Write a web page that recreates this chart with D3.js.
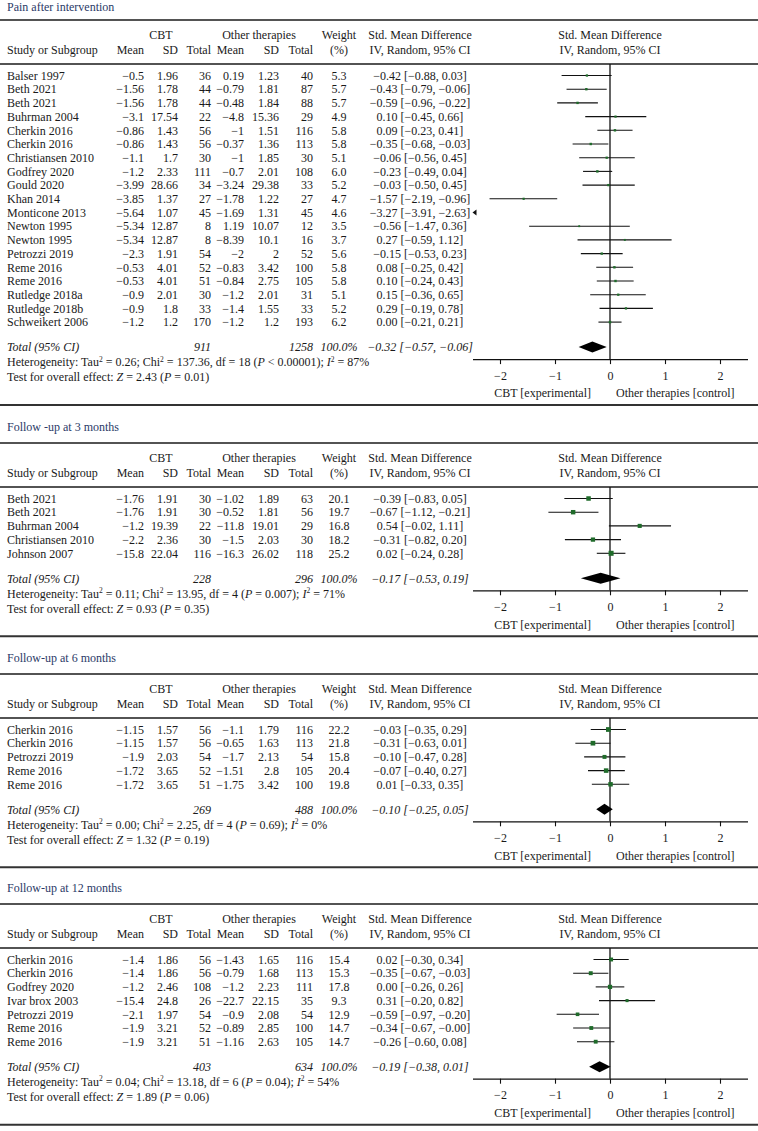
<!DOCTYPE html>
<html>
<head>
<meta charset="utf-8">
<script src="https://cdn.jsdelivr.net/npm/d3@7"></script>
<style>
  html, body { margin: 0; padding: 0; background: #ffffff; }
  svg { display: block; }
  text { font-family: "Liberation Serif", "DejaVu Serif", serif; font-size: 12px; fill: #1a1a1a; }
</style>
</head>
<body>
<div id="chart"></div>
<script>
// ---------------- DATA ----------------
const panelTitles = ["Pain after intervention", "Follow -up at 3 months", "Follow-up at 6 months", "Follow-up at 12 months"];

// Panel 1: Pain after intervention
const p1Studies = ["Balser 1997","Beth 2021","Beth 2021","Buhrman 2004","Cherkin 2016","Cherkin 2016","Christiansen 2010","Godfrey 2020","Gould 2020","Khan 2014","Monticone 2013","Newton 1995","Newton 1995","Petrozzi 2019","Reme 2016","Reme 2016","Rutledge 2018a","Rutledge 2018b","Schweikert 2006"];
const p1CbtMean = [-0.5,-1.56,-1.56,-3.1,-0.86,-0.86,-1.1,-1.2,-3.99,-3.85,-5.64,-5.34,-5.34,-2.3,-0.53,-0.53,-0.9,-0.9,-1.2];
const p1CbtSD = [1.96,1.78,1.78,17.54,1.43,1.43,1.7,2.33,28.66,1.37,1.07,12.87,12.87,1.91,4.01,4.01,2.01,1.8,1.2];
const p1CbtN = [36,44,44,22,56,56,30,111,34,27,45,8,8,54,52,51,30,33,170];
const p1OthMean = [0.19,-0.79,-0.48,-4.8,-1,-0.37,-1,-0.7,-3.24,-1.78,-1.69,1.19,-8.39,-2,-0.83,-0.84,-1.2,-1.4,-1.2];
const p1OthSD = [1.23,1.81,1.84,15.36,1.51,1.36,1.85,2.01,29.38,1.22,1.31,10.07,10.1,2,3.42,2.75,2.01,1.55,1.2];
const p1OthN = [40,87,88,29,116,113,30,108,33,27,45,12,16,52,100,105,31,33,193];
const p1Weight = [5.3,5.7,5.7,4.9,5.8,5.8,5.1,6.0,5.2,4.7,4.6,3.5,3.7,5.6,5.8,5.8,5.1,5.2,6.2];
const p1Smd = [-0.42,-0.43,-0.59,0.10,0.09,-0.35,-0.06,-0.23,-0.03,-1.57,-3.27,-0.56,0.27,-0.15,0.08,0.10,0.15,0.29,0.00];
const p1Lo = [-0.88,-0.79,-0.96,-0.45,-0.23,-0.68,-0.56,-0.49,-0.50,-2.19,-3.91,-1.47,-0.59,-0.53,-0.25,-0.24,-0.36,-0.19,-0.21];
const p1Hi = [0.03,-0.06,-0.22,0.66,0.41,-0.03,0.45,0.04,0.45,-0.96,-2.63,0.36,1.12,0.23,0.42,0.43,0.65,0.78,0.21];

// Panel 2: 3 months
const p2Studies = ["Beth 2021","Beth 2021","Buhrman 2004","Christiansen 2010","Johnson 2007"];
const p2CbtMean = [-1.76,-1.76,-1.2,-2.2,-15.8];
const p2CbtSD = [1.91,1.91,19.39,2.36,22.04];
const p2CbtN = [30,30,22,30,116];
const p2OthMean = [-1.02,-0.52,-11.8,-1.5,-16.3];
const p2OthSD = [1.89,1.81,19.01,2.03,26.02];
const p2OthN = [63,56,29,30,118];
const p2Weight = [20.1,19.7,16.8,18.2,25.2];
const p2Smd = [-0.39,-0.67,0.54,-0.31,0.02];
const p2Lo = [-0.83,-1.12,-0.02,-0.82,-0.24];
const p2Hi = [0.05,-0.21,1.11,0.20,0.28];

// Panel 3: 6 months
const p3Studies = ["Cherkin 2016","Cherkin 2016","Petrozzi 2019","Reme 2016","Reme 2016"];
const p3CbtMean = [-1.15,-1.15,-1.9,-1.72,-1.72];
const p3CbtSD = [1.57,1.57,2.03,3.65,3.65];
const p3CbtN = [56,56,54,52,51];
const p3OthMean = [-1.1,-0.65,-1.7,-1.51,-1.75];
const p3OthSD = [1.79,1.63,2.13,2.8,3.42];
const p3OthN = [116,113,54,105,100];
const p3Weight = [22.2,21.8,15.8,20.4,19.8];
const p3Smd = [-0.03,-0.31,-0.10,-0.07,0.01];
const p3Lo = [-0.35,-0.63,-0.47,-0.40,-0.33];
const p3Hi = [0.29,0.01,0.28,0.27,0.35];

// Panel 4: 12 months
const p4Studies = ["Cherkin 2016","Cherkin 2016","Godfrey 2020","Ivar brox 2003","Petrozzi 2019","Reme 2016","Reme 2016"];
const p4CbtMean = [-1.4,-1.4,-1.2,-15.4,-2.1,-1.9,-1.9];
const p4CbtSD = [1.86,1.86,2.46,24.8,1.97,3.21,3.21];
const p4CbtN = [56,56,108,26,54,52,51];
const p4OthMean = [-1.43,-0.79,-1.2,-22.7,-0.9,-0.89,-1.16];
const p4OthSD = [1.65,1.68,2.23,22.15,2.08,2.85,2.63];
const p4OthN = [116,113,111,35,54,100,105];
const p4Weight = [15.4,15.3,17.8,9.3,12.9,14.7,14.7];
const p4Smd = [0.02,-0.35,0.00,0.31,-0.59,-0.34,-0.26];
const p4Lo = [-0.30,-0.67,-0.26,-0.20,-0.97,-0.67,-0.60];
const p4Hi = [0.34,-0.03,0.26,0.82,-0.20,-0.001,0.08];

// Totals and statistics per panel
const totCbtN = [911, 228, 269, 403];
const totOthN = [1258, 296, 488, 634];
const totSmd = [-0.32, -0.17, -0.10, -0.19];
const totLo = [-0.57, -0.53, -0.25, -0.38];
const totHi = [-0.06, 0.19, 0.05, 0.01];
const hetTau2 = ["0.26", "0.11", "0.00", "0.04"];
const hetChi2 = ["137.36", "13.95", "2.25", "13.18"];
const hetDf = [18, 4, 4, 6];
const hetP = ["< 0.00001", "= 0.007", "= 0.69", "= 0.04"];
const hetI2 = [87, 71, 0, 54];
const effZ = ["2.43", "0.93", "1.32", "1.89"];
const effP = ["0.01", "0.35", "0.19", "0.06"];

const tickValues = [-2, -1, 0, 1, 2];
const leftLabel = "CBT [experimental]";
const rightLabel = "Other therapies [control]";

// ---------------- LAYOUT ----------------
const W = 758, H = 1131;
const titleYs = [7, 427, 658, 888];
const topRules = [20, 443, 674, 904];
const rowStep = 13.7;
const col = { study: 7, mean: 144, sd: 178, n: 211, omean: 244, osd: 279, on: 313, weight: 339, smd: 420, plot: 610 };
const green = "#1f6b2a";
const navy = "#2b3a67";

const panels = [
  { studies: p1Studies, cm: p1CbtMean, cs: p1CbtSD, cn: p1CbtN, om: p1OthMean, os: p1OthSD, on: p1OthN, w: p1Weight, smd: p1Smd, lo: p1Lo, hi: p1Hi },
  { studies: p2Studies, cm: p2CbtMean, cs: p2CbtSD, cn: p2CbtN, om: p2OthMean, os: p2OthSD, on: p2OthN, w: p2Weight, smd: p2Smd, lo: p2Lo, hi: p2Hi },
  { studies: p3Studies, cm: p3CbtMean, cs: p3CbtSD, cn: p3CbtN, om: p3OthMean, os: p3OthSD, on: p3OthN, w: p3Weight, smd: p3Smd, lo: p3Lo, hi: p3Hi },
  { studies: p4Studies, cm: p4CbtMean, cs: p4CbtSD, cn: p4CbtN, om: p4OthMean, os: p4OthSD, on: p4OthN, w: p4Weight, smd: p4Smd, lo: p4Lo, hi: p4Hi }
];

const minus = s => String(s).replace(/-/g, "\u2212");
const fRaw = v => minus(v);
const f2 = v => minus(v.toFixed(2));
const f1 = v => v.toFixed(1);
const ciText = (m, l, h) => `${f2(m)} [${f2(l)}, ${f2(h)}]`;

const svg = d3.select("#chart").append("svg").attr("width", W).attr("height", H);

const x = d3.scaleLinear().domain([-2.5, 2.5]).range([472.5, 747.5]);
const size = d3.scaleSqrt().domain([0, 25]).range([0, 5]);

function txt(g, xPos, y, s, anchor, opts = {}) {
  const t = g.append("text").attr("x", xPos).attr("y", y).attr("dy", "0.35em")
    .attr("text-anchor", anchor || "start").text(s);
  if (opts.italic) t.attr("font-style", "italic");
  if (opts.fill) t.style("fill", opts.fill);
  return t;
}

// rich text: segments [{t, it, sup}]
function rich(g, xPos, y, segs) {
  const t = g.append("text").attr("x", xPos).attr("y", y + 4.2);
  let raised = false;
  segs.forEach(s => {
    const ts = t.append("tspan").text(s.t);
    if (s.it) ts.attr("font-style", "italic");
    if (s.sup) {
      ts.style("font-size", "7.5px").attr("dy", -4.5);
      raised = true;
    } else if (raised) {
      ts.attr("dy", 4.5);
      raised = false;
    }
  });
  return t;
}

function rule(g, y, w, c) {
  g.append("line").attr("x1", 0).attr("x2", W).attr("y1", y).attr("y2", y)
    .attr("stroke", c || "#1a1a1a").attr("stroke-width", w);
}

panels.forEach((p, pi) => {
  const g = svg.append("g");
  const tY = titleYs[pi];
  const topRule = topRules[pi];
  const h1 = topRule + 15, h2 = topRule + 30;
  const hdrRule = topRule + 44;
  const row0 = hdrRule + 11.5;
  const n = p.studies.length;
  const rowY = i => row0 + i * rowStep;
  const totY = rowY(n - 1) + 25;
  const hetY = totY + 15, testY = hetY + 15;
  const axisY = totY + 12;
  const bottomY = axisY + 46;

  txt(g, 7, tY, panelTitles[pi], "start", { fill: navy });
  rule(g, topRule, 1.4);
  rule(g, hdrRule, 1.4);
  rule(g, bottomY, 2, "#333");

  // headers
  txt(g, 161, h1, "CBT", "middle");
  txt(g, 259, h1, "Other therapies", "middle");
  txt(g, col.weight, h1, "Weight", "middle");
  txt(g, col.smd, h1, "Std. Mean Difference", "middle");
  txt(g, col.plot, h1, "Std. Mean Difference", "middle");
  txt(g, col.study, h2, "Study or Subgroup", "start");
  txt(g, col.mean, h2, "Mean", "end");
  txt(g, col.sd, h2, "SD", "end");
  txt(g, col.n, h2, "Total", "end");
  txt(g, col.omean, h2, "Mean", "end");
  txt(g, col.osd, h2, "SD", "end");
  txt(g, col.on, h2, "Total", "end");
  txt(g, col.weight, h2, "(%)", "middle");
  txt(g, col.smd, h2, "IV, Random, 95% CI", "middle");
  txt(g, col.plot, h2, "IV, Random, 95% CI", "middle");

  // zero line
  g.append("line").attr("x1", x(0)).attr("x2", x(0)).attr("y1", hdrRule).attr("y2", axisY)
    .attr("stroke", "#111").attr("stroke-width", 1.3);

  // rows
  p.studies.forEach((s, i) => {
    const y = rowY(i);
    txt(g, col.study, y, s, "start");
    txt(g, col.mean, y, fRaw(p.cm[i]), "end");
    txt(g, col.sd, y, fRaw(p.cs[i]), "end");
    txt(g, col.n, y, p.cn[i], "end");
    txt(g, col.omean, y, fRaw(p.om[i]), "end");
    txt(g, col.osd, y, fRaw(p.os[i]), "end");
    txt(g, col.on, y, p.on[i], "end");
    txt(g, col.weight, y, f1(p.w[i]), "middle");
    txt(g, col.smd, y, ciText(p.smd[i], p.lo[i], p.hi[i]), "middle");

    const [dmin, dmax] = x.domain();
    if (p.hi[i] < dmin) {
      const ax = x(dmin);
      g.append("path").attr("d", `M${ax},${y} L${ax + 4},${y - 3} L${ax + 4},${y + 3} Z`).attr("fill", "#111");
    } else {
      const l = Math.max(p.lo[i], dmin), h = Math.min(p.hi[i], dmax);
      g.append("line").attr("x1", x(l)).attr("x2", x(h)).attr("y1", y).attr("y2", y)
        .attr("stroke", "#111").attr("stroke-width", 1.1);
      const s2 = size(p.w[i]);
      g.append("rect").attr("x", x(p.smd[i]) - s2 / 2).attr("y", y - s2 / 2)
        .attr("width", s2).attr("height", s2).attr("fill", green);
    }
  });

  // total row
  txt(g, col.study, totY, "Total (95% CI)", "start", { italic: true });
  txt(g, col.n, totY, totCbtN[pi], "end", { italic: true });
  txt(g, col.on, totY, totOthN[pi], "end", { italic: true });
  txt(g, col.weight, totY, "100.0%", "middle", { italic: true });
  txt(g, col.smd, totY, ciText(totSmd[pi], totLo[pi], totHi[pi]), "middle", { italic: true });
  g.append("path")
    .attr("d", `M${x(totLo[pi])},${totY} L${x(totSmd[pi])},${totY - 5.5} L${x(totHi[pi])},${totY} L${x(totSmd[pi])},${totY + 5.5} Z`)
    .attr("fill", "#000");

  // heterogeneity
  rich(g, col.study, hetY, [
    { t: "Heterogeneity: Tau" }, { t: "2", sup: true },
    { t: ` = ${hetTau2[pi]}; Chi` }, { t: "2", sup: true },
    { t: ` = ${hetChi2[pi]}, df = ${hetDf[pi]} (` }, { t: "P", it: true },
    { t: ` ${hetP[pi]}); ` }, { t: "I", it: true }, { t: "2", sup: true },
    { t: ` = ${hetI2[pi]}%` }
  ]);
  rich(g, col.study, testY, [
    { t: "Test for overall effect: " }, { t: "Z", it: true },
    { t: ` = ${effZ[pi]} (` }, { t: "P", it: true }, { t: ` = ${effP[pi]})` }
  ]);

  // axis
  const ax = g.append("g").attr("transform", `translate(0,${axisY})`)
    .call(d3.axisBottom(x).tickValues(tickValues).tickSize(5).tickSizeOuter(0).tickPadding(7)
      .tickFormat(d => minus(d)));
  ax.select(".domain").attr("stroke", "#111").attr("stroke-width", 1.3);
  ax.selectAll(".tick line").attr("stroke", "#111").attr("stroke-width", 1.1);
  ax.selectAll(".tick text").style("font-family", '"Liberation Serif", serif').style("font-size", "12px").style("fill", "#1a1a1a");

  txt(g, x(0) - 19, axisY + 34, leftLabel, "end");
  txt(g, x(0) + 6, axisY + 34, rightLabel, "start");
});
</script>
</body>
</html>
